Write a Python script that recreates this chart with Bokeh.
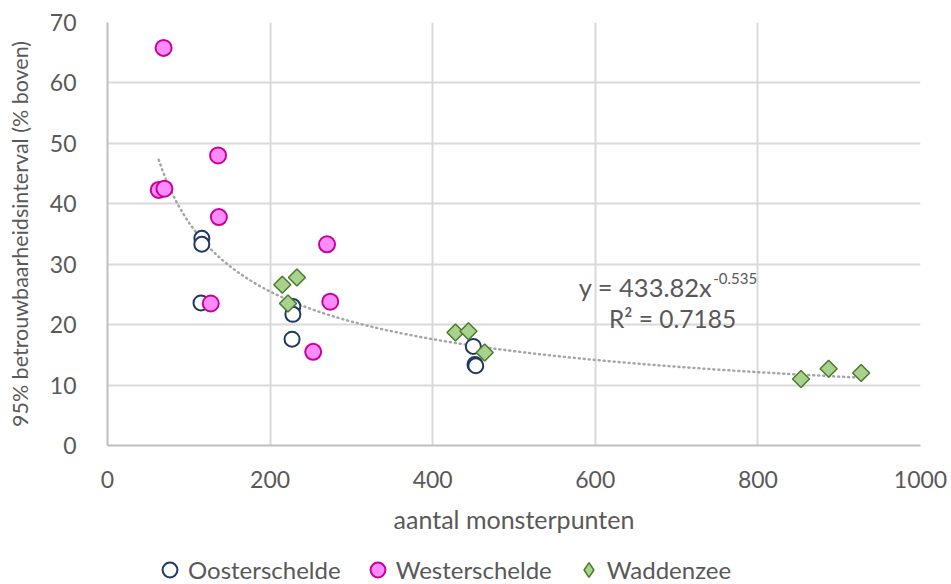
import math
from bokeh.plotting import figure
from bokeh.layouts import column
from bokeh.models import Range1d, Legend, LegendItem, Label, FixedTicker
from bokeh.embed import file_html
from bokeh.resources import INLINE
import numpy as np

# Data
oost_x = [116, 116, 115, 228, 228, 227, 450, 452, 453]
oost_y = [34.3, 33.3, 23.6, 23.0, 21.7, 17.6, 16.4, 13.4, 13.2]
west_x = [69, 63, 70, 136, 137, 127, 270, 274, 253]
west_y = [65.8, 42.3, 42.5, 48.0, 37.8, 23.5, 33.3, 23.8, 15.5]
wadd_x = [215, 233, 222, 428, 444, 464, 853, 887, 927]
wadd_y = [26.6, 27.8, 23.5, 18.7, 18.9, 15.4, 11.0, 12.7, 12.0]
trend_coef = 433.82
trend_exp = -0.535
x_ticks = [0, 200, 400, 600, 800, 1000]
y_ticks = [0, 10, 20, 30, 40, 50, 60, 70]
series_names = ["Oosterschelde", "Westerschelde", "Waddenzee"]

FONT = "Lato"
GRAY = "#595959"

STY_O = dict(marker="circle", size=15, fill_color="white", line_color="#203864", line_width=2)
STY_W = dict(marker="circle", size=16, fill_color="#ff8cff", line_color="#cc0099", line_width=2)
STY_D = dict(marker="square", size=12, angle=math.pi / 4, fill_color="#a9d18e",
             line_color="#4a7a2c", line_width=1.5)
STY_D_LEG = dict(marker="diamond", size=17, fill_color="#a9d18e",
                 line_color="#4a7a2c", line_width=1.5)

p = figure(width=951, height=545, output_backend="svg", toolbar_location=None,
           x_range=Range1d(0, 1000), y_range=Range1d(0, 70),
           min_border_left=107, min_border_right=31, min_border_top=22, min_border_bottom=100)
p.outline_line_color = None
p.background_fill_color = "white"
p.border_fill_color = "white"

for ax in (p.xaxis, p.yaxis):
    ax.axis_line_color = "#bfbfbf"
    ax.axis_line_width = 2
    ax.major_tick_line_color = None
    ax.minor_tick_line_color = None
    ax.major_label_text_font = FONT
    ax.major_label_text_font_size = "23px"
    ax.major_label_text_color = GRAY
    ax.axis_label_text_font = FONT
    ax.axis_label_text_color = GRAY
    ax.axis_label_text_font_style = "normal"

p.xaxis.axis_label_text_font_size = "25px"
p.yaxis.axis_label_text_font_size = "21.5px"
p.xaxis.ticker = FixedTicker(ticks=x_ticks)
p.yaxis.ticker = FixedTicker(ticks=y_ticks)
p.xaxis.axis_label = "aantal monsterpunten"
p.yaxis.axis_label = "95% betrouwbaarheidsinterval (% boven)"
p.xaxis.major_label_standoff = 19
p.yaxis.major_label_standoff = 25
p.xaxis.axis_label_standoff = 13
p.yaxis.axis_label_standoff = 14

p.grid.grid_line_color = "#d9d9d9"
p.grid.grid_line_width = 2

# trendline
tx = np.linspace(min(west_x), max(wadd_x), 200)
ty = trend_coef * tx ** trend_exp
p.line(tx, ty, line_color="#a6a6a6", line_width=2.5, line_dash="1 4", line_cap="round")

p.scatter(oost_x, oost_y, **STY_O)
p.scatter(west_x, west_y, **STY_W)
p.scatter(wadd_x, wadd_y, **STY_D)

eq1 = Label(x=744, y=26.3, text="y = 433.82x", text_font=FONT, text_font_size="25.5px",
            text_color=GRAY, text_baseline="middle", text_align="right")
eq2 = Label(x=745, y=27.7, text="-0.535", text_font=FONT, text_font_size="15px",
            text_color=GRAY, text_baseline="middle")
eq3 = Label(x=695, y=21.0, text="R² = 0.7185", text_font=FONT, text_font_size="24.5px",
            text_color=GRAY, text_baseline="middle", text_align="center")
for l in (eq1, eq2, eq3):
    p.add_layout(l)

# legend strip below the chart (data lies outside this strip's ranges)
q = figure(width=951, height=39, output_backend="svg", toolbar_location=None,
           x_range=Range1d(-2, -1), y_range=Range1d(-2, -1),
           min_border_left=0, min_border_right=0, min_border_top=0, min_border_bottom=0)
q.axis.visible = False
q.grid.visible = False
q.outline_line_color = None
l_o = q.scatter(oost_x, oost_y, **STY_O)
l_w = q.scatter(west_x, west_y, **STY_W)
l_d = q.scatter(wadd_x, wadd_y, **STY_D_LEG)
legend = Legend(items=[LegendItem(label=series_names[0], renderers=[l_o]),
                       LegendItem(label=series_names[1], renderers=[l_w]),
                       LegendItem(label=series_names[2], renderers=[l_d])],
                orientation="horizontal", location=(44, -4),
                label_text_font=FONT, label_text_font_size="24px", label_text_color=GRAY,
                border_line_color=None, background_fill_alpha=0,
                spacing=18, glyph_width=37, glyph_height=37, label_standoff=0,
                padding=0, margin=0)
q.add_layout(legend, "center")

open("out.html", "w").write(file_html(column(p, q, spacing=0), INLINE))
